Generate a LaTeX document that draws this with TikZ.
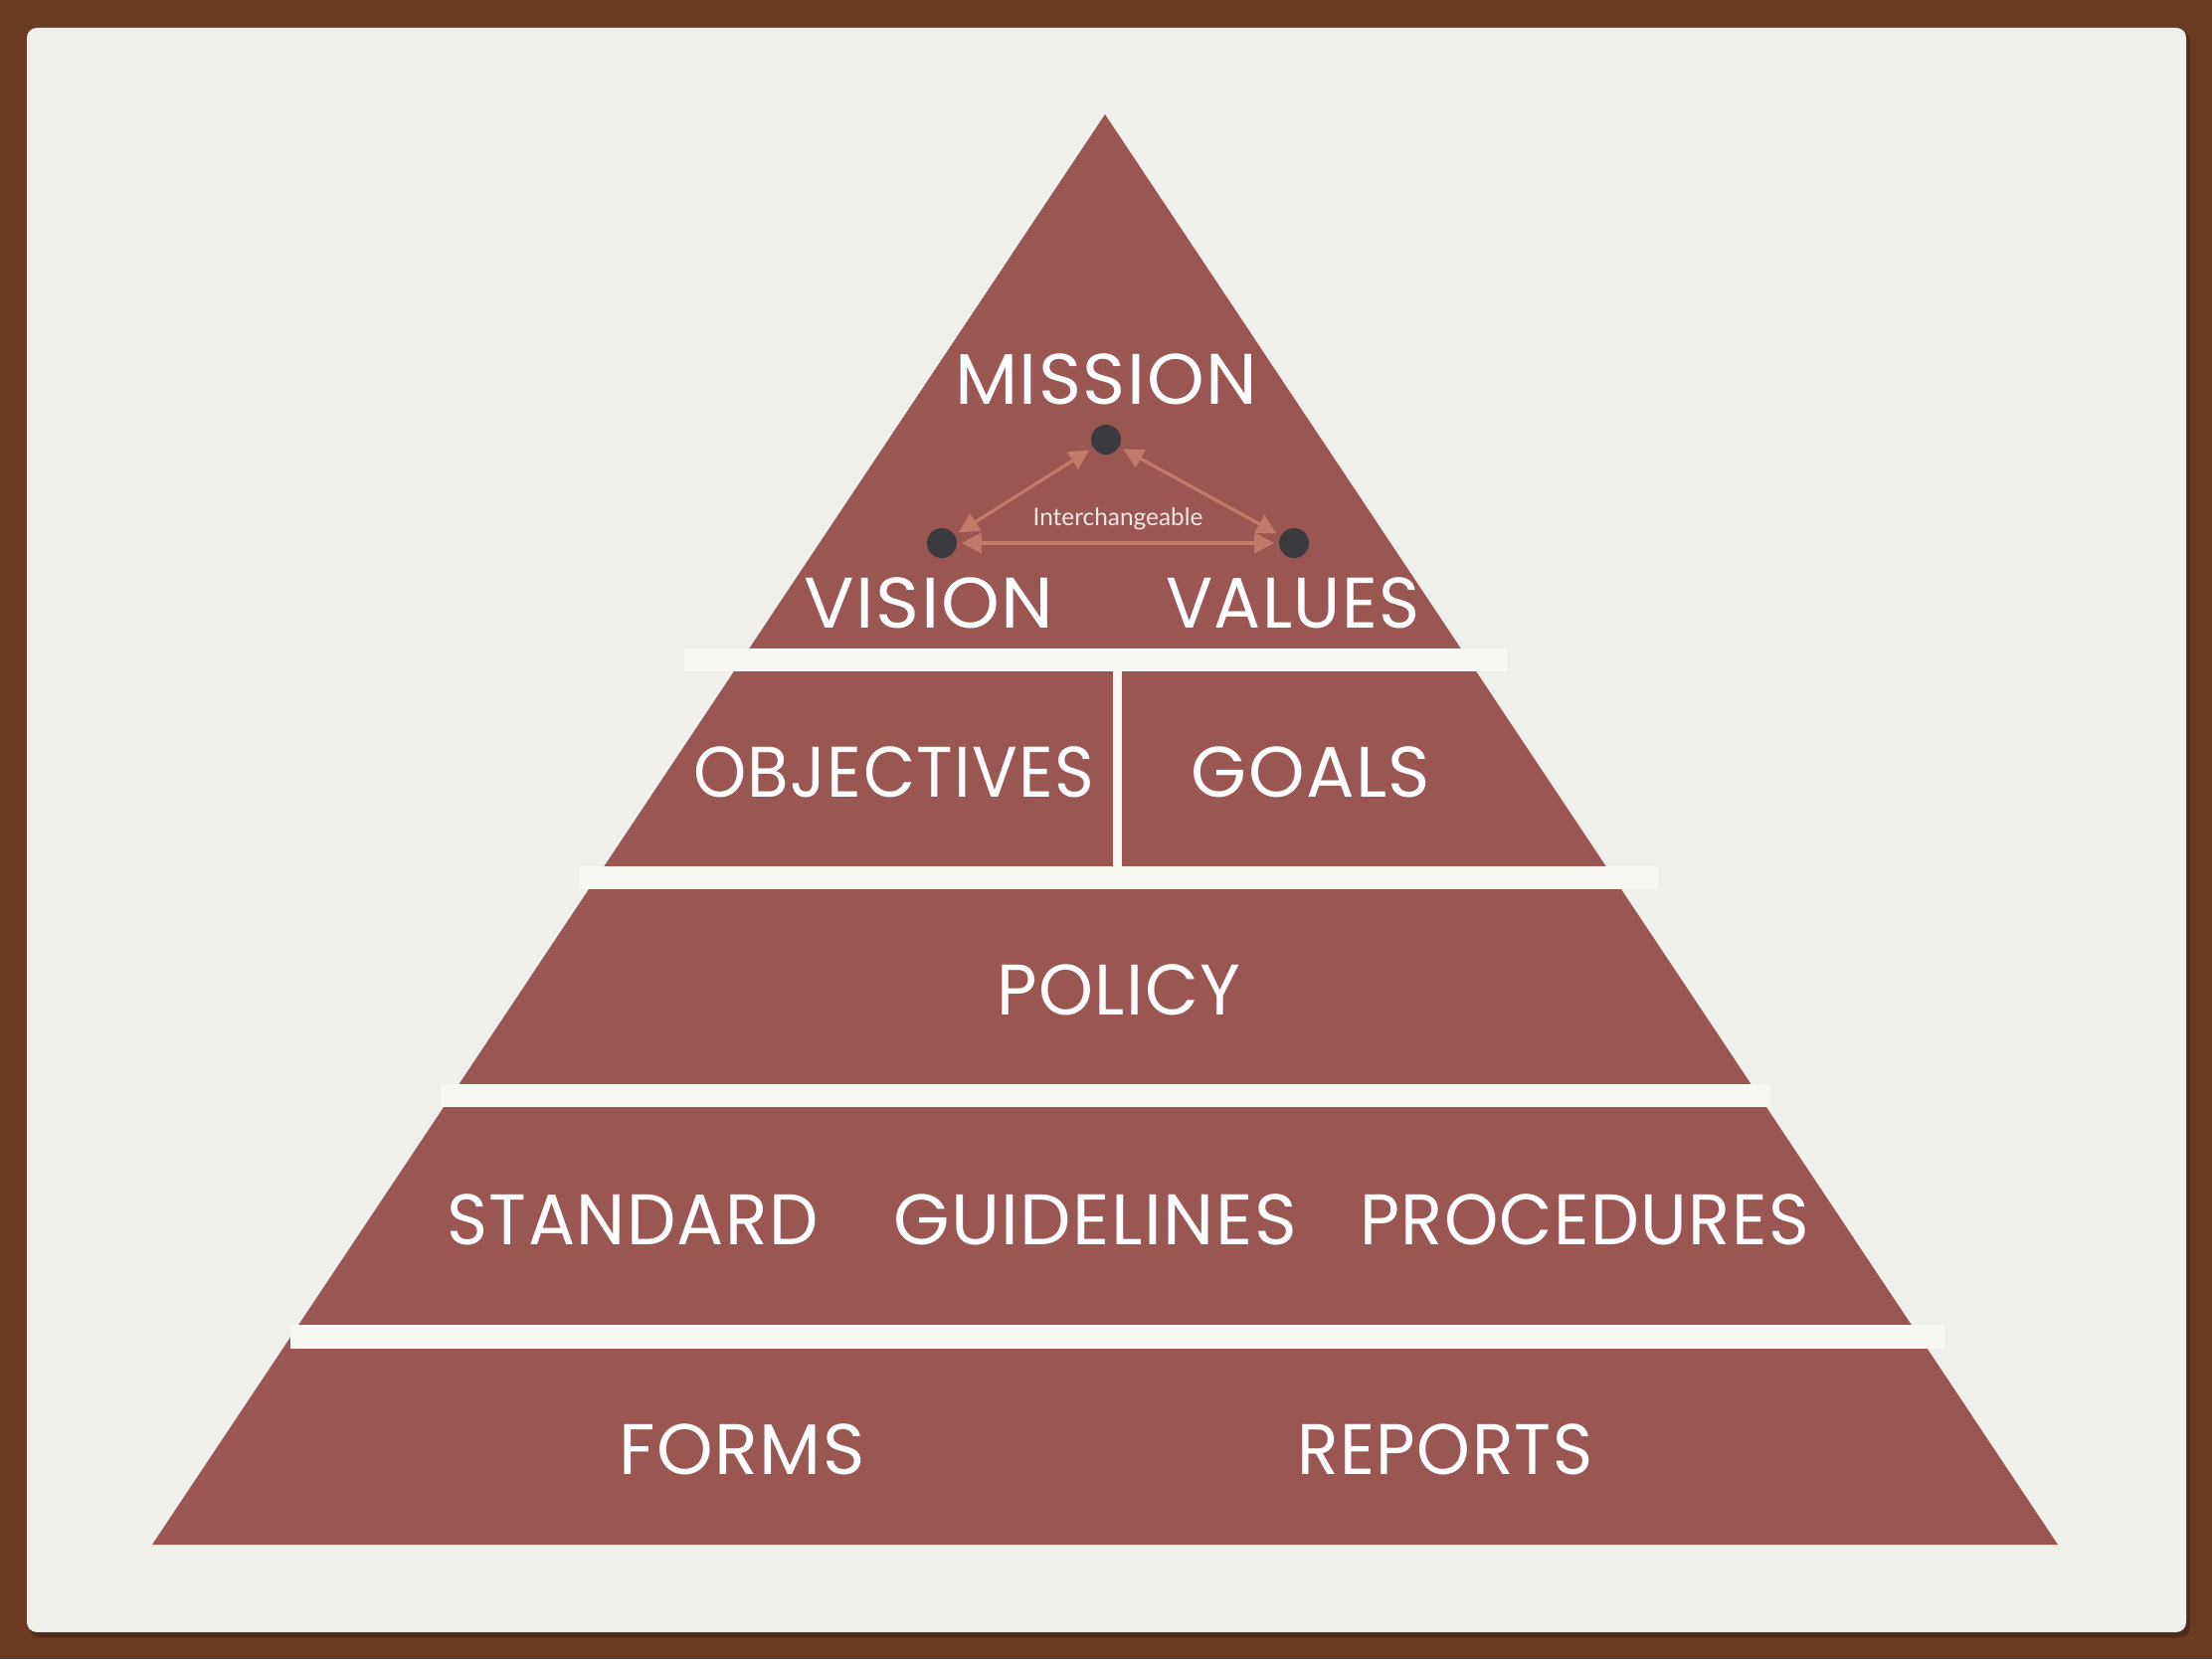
\documentclass[tikz,border=0pt]{standalone}
\usepackage{fontspec}
\usepackage{graphicx}
\usetikzlibrary{arrows.meta}
\newfontfamily\lblfont{Poppins}[LetterSpace=2]
\newfontfamily\smallfont{Lato}
\newcommand{\hsq}[2]{\scalebox{#1}[1]{#2}}
\definecolor{bgbrown}{HTML}{6A3A22}
\definecolor{card}{HTML}{EFEFEC}
\definecolor{pyr}{HTML}{9A5651}
\definecolor{band}{HTML}{F8F8F3}
\definecolor{dotcol}{HTML}{3B3A3E}
\definecolor{arr}{HTML}{C27A6B}
\definecolor{smalltext}{HTML}{F2E6E2}
\begin{document}
\begin{tikzpicture}[x=0.25pt,y=-0.25pt,
  lbl/.style={text=white,font=\lblfont\fontsize{18}{18}\selectfont,inner sep=0,anchor=base},
  dotnode/.style={circle,fill=dotcol,minimum size=7.5pt,inner sep=0,outer sep=0},
  xarrow/.style={draw=arr,line width=0.8pt,{Triangle[length=5pt,width=5pt]}-{Triangle[length=5pt,width=5pt]},shorten <=1.2pt,shorten >=1.2pt},
  bandbox/.style={fill=band}]
\fill[bgbrown] (0,0) rectangle (2224,1668);
\useasboundingbox (0,0) rectangle (2224,1668);
\fill[black,opacity=0.25,rounded corners=2.5pt] (30,32) rectangle (2202,1646);
\fill[card,rounded corners=2.5pt] (27,28) rectangle (2198,1641);
% pyramid
\fill[pyr] (1111,115) -- (2069,1553) -- (153,1553) -- cycle;
% bands
\fill[bandbox] (688,652) rectangle (1515,675);
\fill[bandbox] (583,871) rectangle (1667,894);
\fill[bandbox] (443,1090) rectangle (1780,1113);
\fill[bandbox] (292,1332) rectangle (1955,1356);
\fill[bandbox] (1119,675) rectangle (1128,871);
% dots and arrows
\node[dotnode] (dt) at (1112,442) {};
\node[dotnode] (dl) at (947,546) {};
\node[dotnode] (dr) at (1301,546) {};
\draw[xarrow] (dl) -- (dt);
\draw[xarrow] (dt) -- (dr);
\draw[xarrow] (dl) -- (dr);
\node[text=smalltext,font=\smallfont\fontsize{6.1}{7}\selectfont,inner sep=0,anchor=base] (inter) at (1124,528) {Interchangeable};
% labels
\node[lbl] (mission) at (1112,407) {\hsq{1.02}{MISSION}};
\node[lbl] (vision) at (934,631) {\hsq{1.04}{VISION}};
\node[lbl] (values) at (1300,631) {\hsq{0.97}{VALUES}};
\node[lbl] (objectives) at (899,801) {\hsq{0.94}{OBJECTIVES}};
\node[lbl] (goals) at (1318,801) {\hsq{1.0}{GOALS}};
\node[lbl] (policy) at (1125,1020) {\hsq{0.97}{POLICY}};
\node[lbl] (standard) at (636,1251) {\hsq{0.97}{STANDARD}};
\node[lbl] (guidelines) at (1101,1251) {\hsq{1.01}{GUIDELINES}};
\node[lbl] (procedures) at (1593,1251) {\hsq{0.96}{PROCEDURES}};
\node[lbl] (forms) at (746,1482) {\hsq{1.0}{FORMS}};
\node[lbl] (reports) at (1453,1482) {\hsq{0.95}{REPORTS}};
\end{tikzpicture}
\end{document}
